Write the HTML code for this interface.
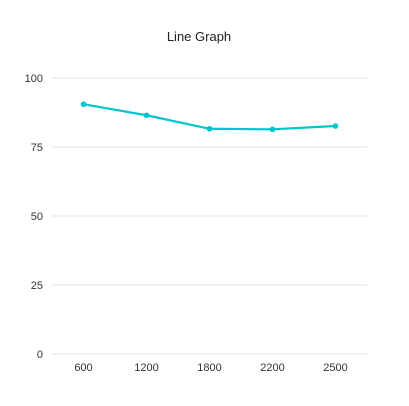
<!DOCTYPE html>
<html><head><meta charset="utf-8"><style>
body{margin:0;background:#fff;width:409px;height:401px;overflow:hidden;font-family:"Liberation Sans",sans-serif}
</style></head><body>
<svg width="409" height="401" id="chart">
<text x="199" y="41" text-anchor="middle" font-size="13" fill="#222">Line Graph</text>
</svg>
<script>
const categories=["600","1200","1800","2200","2500"];
const values=[90.5,86.5,81.6,81.4,82.6];
const yTicks=[0,25,50,75,100];
const svg=document.getElementById('chart');
const NS='http://www.w3.org/2000/svg';
const x0=52,x1=367,yTop=78,yBot=354;
const y=v=>yBot-(v/100)*(yBot-yTop);
const bw=(x1-x0)/categories.length;
const x=i=>x0+bw*(i+0.5);
function mk(t,a){const e=document.createElementNS(NS,t);for(const k in a)e.setAttribute(k,a[k]);svg.appendChild(e);return e;}
yTicks.forEach(t=>{
 const l=mk('line',{x1:x0,x2:x1,y1:y(t),y2:y(t),stroke:'#e3e3e3','stroke-width':1});
 
 
 const tx=mk('text',{x:43,y:y(t)+4,'text-anchor':'end','font-size':11,fill:'#333'});
 tx.textContent=t;
 
 
});
categories.forEach((c,i)=>{
 const tx=mk('text',{x:x(i),y:371,'text-anchor':'middle','font-size':11,fill:'#333'});
 tx.textContent=c;
 
 
});
const pl=mk('polyline',{points:values.map((v,i)=>x(i)+','+y(v)).join(' '),fill:'none',stroke:'#00c4cc','stroke-width':2.2});


values.forEach((v,i)=>{
 const c=mk('circle',{cx:x(i),cy:y(v),r:2.8,fill:'#00c4cc'});
 
 
});
</script>
</body></html>
